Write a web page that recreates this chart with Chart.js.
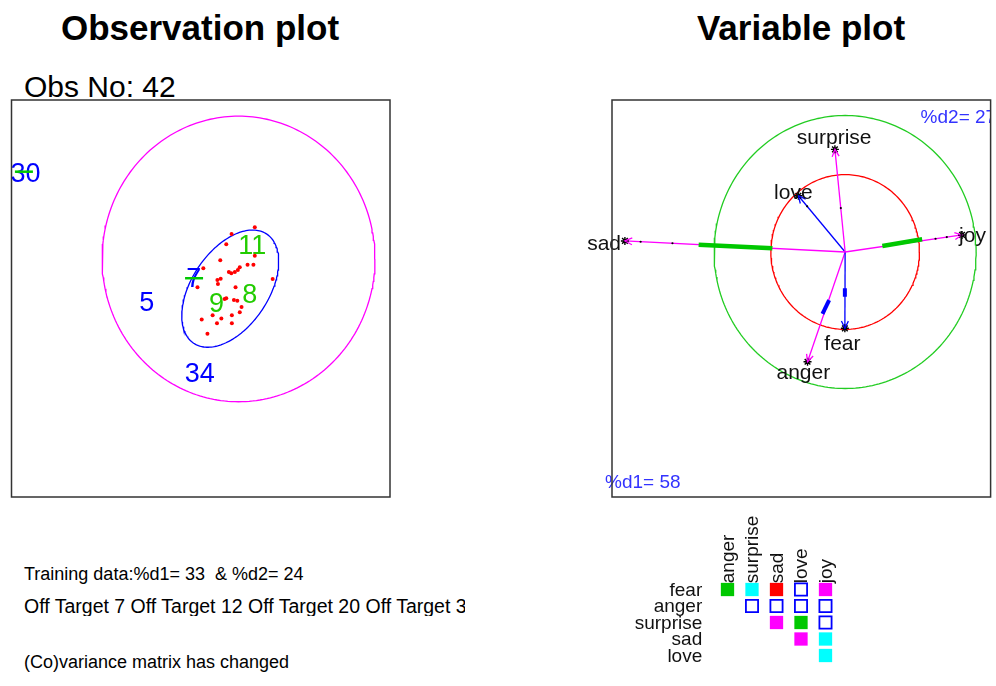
<!DOCTYPE html>
<html><head><meta charset="utf-8"><title>Observation plot / Variable plot</title>
<script src="https://cdn.jsdelivr.net/npm/chart.js@4.4.1/dist/chart.umd.min.js"></script>
<style>
html,body{margin:0;padding:0;background:#fff;}
body{width:996px;height:686px;position:relative;overflow:hidden;font-family:"Liberation Sans",Arial,sans-serif;color:#000;}
.t{position:absolute;white-space:nowrap;}
canvas{position:absolute;}
</style></head>
<body>
<div class="t" style="left:0;width:400px;text-align:center;top:10px;font-size:35px;line-height:35px;font-weight:bold;">Observation plot</div>
<div class="t" style="left:601px;width:400px;text-align:center;top:10px;font-size:35px;line-height:35px;font-weight:bold;">Variable plot</div>
<div class="t" style="left:24px;top:72px;font-size:30px;line-height:30px;">Obs No: 42</div>
<div class="t" style="left:24px;top:565px;font-size:18px;line-height:18px;">Training data:%d1= 33&nbsp; &amp; %d2= 24</div>
<div class="t" style="left:24px;top:597px;width:441px;overflow:hidden;font-size:19.5px;line-height:19px;">Off Target 7 Off Target 12 Off Target 20 Off Target 3</div>
<div class="t" style="left:24px;top:653px;font-size:18px;line-height:18px;">(Co)variance matrix has changed</div>
<canvas id="obs" width="498" height="686" style="left:0;top:0"></canvas>
<canvas id="vars" width="498" height="686" style="left:498px;top:0"></canvas>
<canvas id="corr" width="396" height="186" style="left:600px;top:500px"></canvas>
<script>
// ================= DATA =================
// --- Observation plot (score space) ---
const obsRangeX = [-1.664, 1.110];
const obsRangeY = [-1.667, 1.113];
const trainScoreX = [0.119,-0.051,-0.090,0.119,-0.134,0.066,0.109,0.009,-0.005,-0.027,-0.053,-0.071,-0.258,-0.131,-0.155,-0.151,-0.301,0.250,-0.022,-0.090,-0.102,-0.034,-0.009,0.022,0.009,-0.049,-0.270,-0.190,-0.126,-0.158,-0.049,-0.228];
const trainScoreY = [0.222,0.175,0.103,0.023,-0.009,-0.040,-0.040,-0.058,-0.077,-0.091,-0.100,-0.091,-0.065,-0.138,-0.147,-0.175,-0.198,-0.140,-0.198,-0.275,-0.280,-0.287,-0.292,-0.336,-0.373,-0.394,-0.424,-0.394,-0.417,-0.450,-0.450,-0.524];
const offTargetIds = ['30','7','5','34'];
const offTargetX = [-1.562,-0.328,-0.672,-0.285];
const offTargetY = [0.608,-0.133,-0.301,-0.799];
const onTargetIds = ['11','8','9'];
const onTargetX = [0.100,0.082,-0.161];
const onTargetY = [0.098,-0.240,-0.306];
const flaggedX = [-1.573,-0.326];
const flaggedY = [0.611,-0.135];
const limitCircleRadius = 1;
const ellipseCentre = [-0.061,-0.208];
const ellipseAxisA = [0.268,0.382];
const ellipseAxisB = [-0.233,0.150];

// --- Variable plot (loadings) ---
const varRangeX = [-1.7795, 1.1103];
const varRangeY = [-1.7949, 1.1136];
const varNames = ['sad','joy','surprise','love','fear','anger'];
const varX = [-1.681, 0.892, -0.078, -0.357, -0.002, -0.287];
const varY = [0.081, 0.125, 0.752, 0.412, -0.559, -0.804];
const varLabelX = [-1.840, 0.972, -0.084, -0.395, -0.021, -0.319];
const varLabelY = [0.073, 0.133, 0.848, 0.448, -0.662, -0.861];
const varGroup = ['m','m','m','b','b','m'];
const innerCircleRadius = 0.567;
const outerCircleRadius = 1;
const greenSegStart = [[-1.118,0.054],[0.284,0.044]];
const greenSegEnd = [[-0.555,0.027],[0.588,0.093]];
const blueSegStart = [[-0.002,-0.266],[-0.122,-0.352]];
const blueSegEnd = [[-0.002,-0.327],[-0.173,-0.454]];
const tickDotX = [-1.561,-1.318,0.690,0.776,-0.033,-0.290];
const tickDotY = [0.075,0.064,0.097,0.109,0.322,0.335];
const pctText = ['%d1= 58','%d2= 27'];
const pctX = [-1.833, 0.576];
const pctY = [-1.692, 0.982];

// --- Correlation-change matrix ---
const corrColumns = ['anger','surprise','sad','love','joy'];
const corrRows = ['fear','anger','surprise','sad','love'];
const corrCells = [
  ['g'],
  ['c','o'],
  ['r','o','m'],
  ['o','o','g','m'],
  ['m','o','o','c','c']
];

// ================= HELPERS =================
const FONT = '"Liberation Sans", Arial, sans-serif';
function conic(c, a, b, n) {
  const pts = [];
  for (let i = 0; i <= n; i++) {
    const t = 2 * Math.PI * i / n;
    pts.push({x: c[0] + a[0]*Math.cos(t) + b[0]*Math.sin(t), y: c[1] + a[1]*Math.cos(t) + b[1]*Math.sin(t)});
  }
  return pts;
}
const zip = (xs, ys) => xs.map((x, i) => ({x, y: ys[i]}));
function baseOptions(pad, xr, yr) {
  return {
    responsive: false, animation: false, devicePixelRatio: 1, events: [],
    layout: {padding: pad},
    plugins: {legend: {display: false}, tooltip: {enabled: false}},
    scales: {
      x: {type: 'linear', display: false, min: xr[0], max: xr[1]},
      y: {type: 'linear', display: false, min: yr[0], max: yr[1]}
    }
  };
}
const lineDs = (data, color, width, order, extra) => Object.assign({
  data, showLine: true, borderColor: color, borderWidth: width, pointRadius: 0,
  fill: false, tension: 0, clip: false, order
}, extra || {});
const boxPlugin = {
  id: 'box',
  afterDraw(chart) {
    const a = chart.chartArea, ctx = chart.ctx;
    ctx.save(); ctx.strokeStyle = '#333'; ctx.lineWidth = 1.5;
    ctx.strokeRect(a.left, a.top, a.right - a.left, a.bottom - a.top); ctx.restore();
  }
};
function textPlugin(id, hook, items) {
  return {
    id,
    [hook](chart) {
      const ctx = chart.ctx, sx = chart.scales.x, sy = chart.scales.y;
      items.forEach(it => {
        ctx.save();
        if (it.clipRight) { ctx.beginPath(); ctx.rect(0, 0, chart.chartArea.right, chart.height); ctx.clip(); }
        ctx.font = it.font; ctx.fillStyle = it.color;
        ctx.textAlign = it.align || 'center'; ctx.textBaseline = 'middle';
        const px = sx.getPixelForValue(it.x) + (it.dx || 0), py = sy.getPixelForValue(it.y) + (it.dy || 0);
        if (it.rotate) { ctx.translate(px, py); ctx.rotate(it.rotate); ctx.fillText(it.text, 0, 0); }
        else ctx.fillText(it.text, px, py);
        ctx.restore();
      });
    }
  };
}
const arrowPlugin = {
  id: 'arrowHeads',
  afterDatasetsDraw(chart) {
    const ctx = chart.ctx;
    chart.data.datasets.forEach((ds, i) => {
      if (!ds.arrowHead) return;
      const p = chart.getDatasetMeta(i).data, a = p[p.length - 2], b = p[p.length - 1];
      const ang = Math.atan2(b.y - a.y, b.x - a.x), L = 8, w = Math.PI / 7;
      ctx.save(); ctx.strokeStyle = ds.borderColor; ctx.lineWidth = 1.3;
      ctx.beginPath();
      ctx.moveTo(b.x - L * Math.cos(ang - w), b.y - L * Math.sin(ang - w));
      ctx.lineTo(b.x, b.y);
      ctx.lineTo(b.x - L * Math.cos(ang + w), b.y - L * Math.sin(ang + w));
      ctx.stroke(); ctx.restore();
    });
  }
};

// ================= OBSERVATION PLOT =================
const BLUE = '#0000ff', GREEN = '#00c800', MAG = '#ff00ff', RED = '#ff0000', CYAN = '#00ffff';
const obsItems = [];
offTargetIds.forEach((t, i) => obsItems.push({text: t, x: offTargetX[i], y: offTargetY[i], dy: 2, font: '27px ' + FONT, color: BLUE}));
onTargetIds.forEach((t, i) => obsItems.push({text: t, x: onTargetX[i], y: onTargetY[i], dy: 2, font: '27px ' + FONT, color: '#22cc00'}));

new Chart(document.getElementById('obs'), {
  type: 'scatter',
  data: {datasets: [
    {data: zip(flaggedX, flaggedY), pointStyle: 'line', pointRadius: 9, borderColor: GREEN, borderWidth: 2.5, showLine: false, clip: false, order: 1},
    {data: zip(trainScoreX, trainScoreY), pointRadius: 2, backgroundColor: RED, borderWidth: 0, showLine: false, clip: false, order: 2},
    lineDs(conic(ellipseCentre, ellipseAxisA, ellipseAxisB, 180), BLUE, 1.3, 3),
    lineDs(conic([0, 0], [limitCircleRadius, 0], [0, limitCircleRadius], 240), MAG, 1.3, 4)
  ]},
  options: baseOptions({left: 10, right: 108, top: 100, bottom: 189}, obsRangeX, obsRangeY),
  plugins: [textPlugin('obsText', 'beforeDatasetsDraw', obsItems), boxPlugin]
});

// ================= VARIABLE PLOT =================
const varDatasets = [];
varNames.forEach((n, i) => {
  varDatasets.push({data: [{x: varX[i], y: varY[i]}], pointStyle: 'star', pointRadius: 4, borderColor: '#000', borderWidth: 1.4, showLine: false, clip: false, order: 1});
});
varDatasets.push({data: zip(tickDotX, tickDotY), pointRadius: 1.1, backgroundColor: '#000', borderWidth: 0, showLine: false, clip: false, order: 2});
greenSegStart.forEach((s, i) => varDatasets.push(lineDs([{x: s[0], y: s[1]}, {x: greenSegEnd[i][0], y: greenSegEnd[i][1]}], GREEN, 4.5, 3)));
blueSegStart.forEach((s, i) => varDatasets.push(lineDs([{x: s[0], y: s[1]}, {x: blueSegEnd[i][0], y: blueSegEnd[i][1]}], BLUE, 4, 3)));
varNames.forEach((n, i) => {
  varDatasets.push(lineDs([{x: 0, y: 0}, {x: varX[i], y: varY[i]}], varGroup[i] === 'm' ? MAG : BLUE, 1.3, 4, {arrowHead: true}));
});
varDatasets.push(lineDs(conic([0, 0], [innerCircleRadius, 0], [0, innerCircleRadius], 240), RED, 1.3, 5));
varDatasets.push(lineDs(conic([0, 0], [outerCircleRadius, 0], [0, outerCircleRadius], 240), '#22cc22', 1.3, 6));

const varItems = varNames.map((n, i) => ({text: n, x: varLabelX[i], y: varLabelY[i], dy: n === 'anger' ? 4 : 2, font: '21px ' + FONT, color: '#111'}));
pctText.forEach((t, i) => varItems.push({text: t, x: pctX[i], y: pctY[i], font: '19px ' + FONT, color: '#3333ff', align: 'left', clipRight: true}));

new Chart(document.getElementById('vars'), {
  type: 'scatter',
  data: {datasets: varDatasets},
  options: baseOptions({left: 114, right: 4, top: 100, bottom: 189}, varRangeX, varRangeY),
  plugins: [arrowPlugin, textPlugin('varText', 'afterDatasetsDraw', varItems), boxPlugin]
});

// ================= CORRELATION MATRIX =================
const fillColours = {g: GREEN, c: CYAN, r: RED, m: MAG};
const corrDatasets = [];
Object.keys(fillColours).forEach(code => {
  const pts = [];
  corrCells.forEach((col, ci) => col.forEach((v, ri) => { if (v === code) pts.push({x: ci + 1, y: ri + 1}); }));
  corrDatasets.push({data: pts, pointStyle: 'rect', pointRadius: 9.4, backgroundColor: fillColours[code], borderWidth: 0, showLine: false, clip: false});
});
const openPts = [];
corrCells.forEach((col, ci) => col.forEach((v, ri) => { if (v === 'o') openPts.push({x: ci + 1, y: ri + 1}); }));
corrDatasets.push({data: openPts, pointStyle: 'rect', pointRadius: 8.6, backgroundColor: 'rgba(255,255,255,0)', borderColor: BLUE, borderWidth: 1.8, showLine: false, clip: false});

const corrItems = [];
corrRows.forEach((r, i) => corrItems.push({text: r, x: 0.5, y: i + 1, dx: -13, dy: 1, font: '19px ' + FONT, color: '#111', align: 'right'}));
corrColumns.forEach((c, i) => corrItems.push({text: c, x: i + 1, y: 0.5, dx: 1, dy: 2, font: '19px ' + FONT, color: '#111', align: 'left', rotate: -Math.PI / 2}));

const corrOpts = baseOptions({left: 115.25, right: 158.25, top: 81.25, bottom: 22.25}, [0.5, 5.5], [0.5, 5.5]);
corrOpts.scales.y.reverse = true;
new Chart(document.getElementById('corr'), {
  type: 'scatter',
  data: {datasets: corrDatasets},
  options: corrOpts,
  plugins: [textPlugin('corrText', 'afterDatasetsDraw', corrItems)]
});
</script>
</body></html>
